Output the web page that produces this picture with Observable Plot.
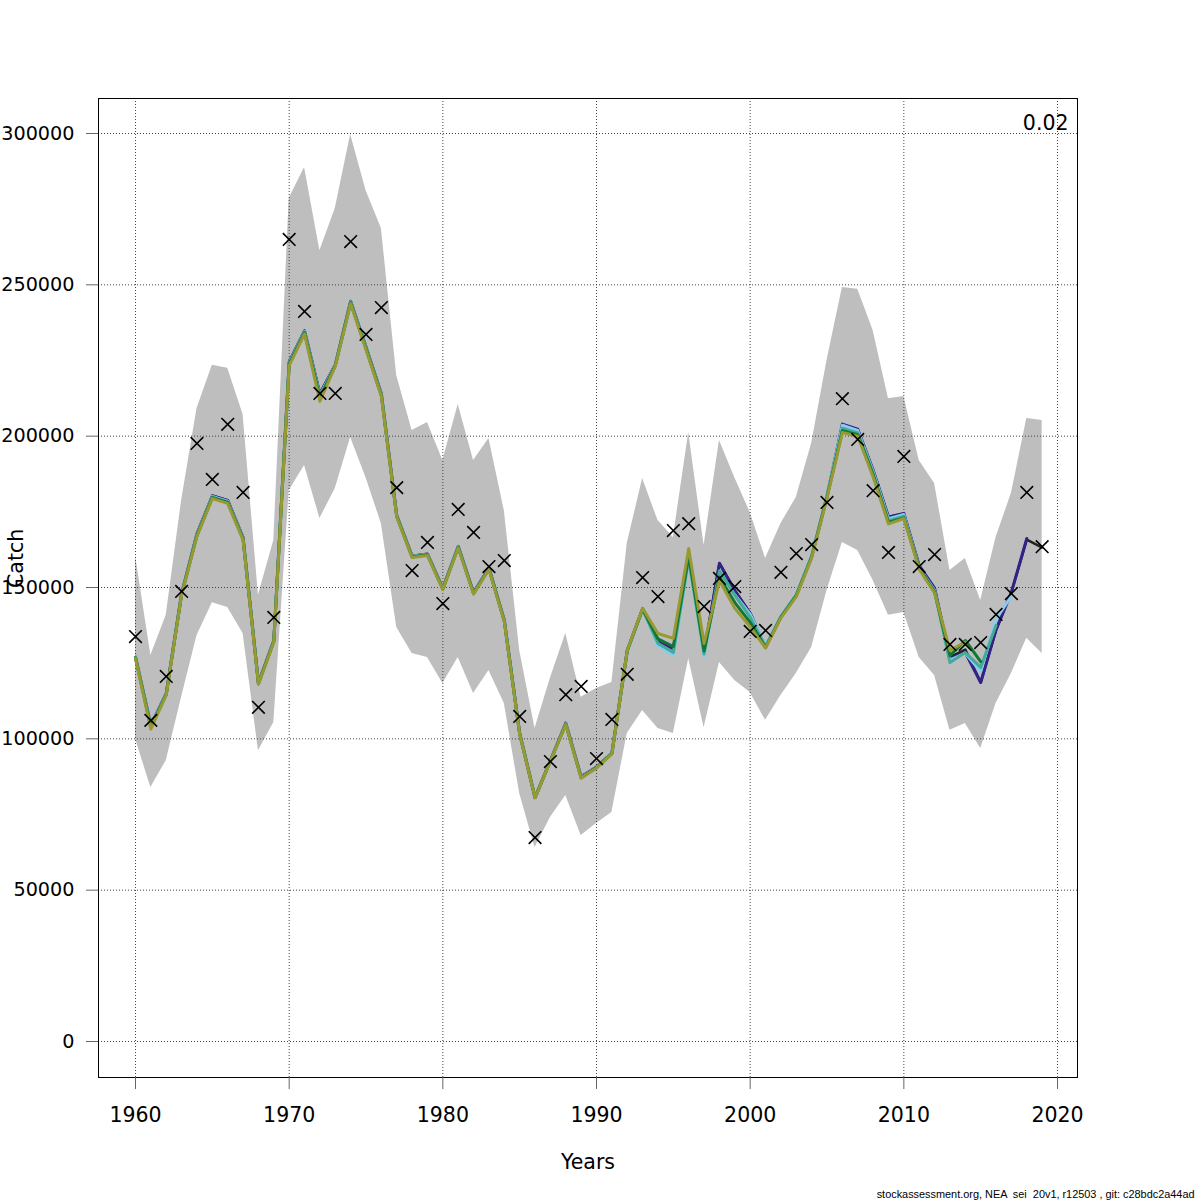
<!DOCTYPE html>
<html><head><meta charset="utf-8">
<script src="https://cdn.jsdelivr.net/npm/d3@7"></script>
<script src="https://cdn.jsdelivr.net/npm/@observablehq/plot@0.6"></script>
<style>
body{margin:0;background:#fff;}
#chart{width:1200px;height:1200px;}
</style></head><body><div id="chart"></div>
<script>
const years = [1960,1961,1962,1963,1964,1965,1966,1967,1968,1969,1970,1971,1972,1973,1974,1975,1976,1977,1978,1979,1980,1981,1982,1983,1984,1985,1986,1987,1988,1989,1990,1991,1992,1993,1994,1995,1996,1997,1998,1999,2000,2001,2002,2003,2004,2005,2006,2007,2008,2009,2010,2011,2012,2013,2014,2015,2016,2017,2018,2019];

const observedCatch = [133800,106100,120600,148700,197600,185700,203900,181400,110400,140100,265000,241200,214100,214100,264300,233600,242500,183000,155600,164900,144700,175800,168200,156900,158900,107400,67400,92500,114600,117300,93500,106400,121300,153300,147000,168800,171100,143700,153000,150300,135500,135800,155000,161200,164200,178100,212400,198900,182000,161600,193300,156900,160900,131200,131200,131800,141100,148000,181400,163500];

const upperCI = [160600,127500,140800,178700,209100,223400,222400,207200,147400,165500,278500,288800,261300,275200,299700,281200,268600,220000,201900,204500,192000,210500,192000,199200,175400,129200,103400,120000,134800,113700,116600,118600,164500,186000,172100,166500,201200,163900,198600,186300,174800,159600,171100,179700,197600,225000,249100,248500,234900,212400,213100,192000,184400,155600,159600,145700,166500,181100,205800,205200];

const lowerCI = [100000,83900,92800,113700,134100,145000,143400,134800,96100,105400,182000,190300,172800,182700,199600,186300,171100,136800,128200,126900,118300,126900,115000,122600,111700,81900,64100,74000,81300,68100,72000,75700,101800,109400,103400,101800,126500,103700,125200,119300,115300,106100,114300,121600,130200,149000,164900,162200,152300,140800,141700,126900,120900,102800,105100,96800,111700,121600,133200,128200];

const baseRun = [127000,104500,115000,148000,167800,180300,178800,166500,118500,132500,224500,234800,214000,223600,244600,229500,214000,173800,160400,161100,149800,163600,148300,156500,139200,101900,80600,92800,105200,87500,90700,95300,129200,143000,132500,129800,160000,128500,158000,149000,141500,130300,140300,147500,160300,180200,203800,202200,188500,173300,174400,157000,149500,127000,129500,118600,136000,148500,165800,163200];

// retrospective peels (each one year shorter)
const peel1 = [127000,104500,115000,148000,167800,180300,178800,166500,118500,132500,224500,234800,214000,223600,244600,229500,214000,173800,160400,161100,149800,163600,148300,156500,139200,101900,80600,92800,105200,87500,90700,95300,129200,143000,132500,129800,160000,128500,158000,149000,141500,130300,140300,147500,160300,180200,204000,202300,188800,173300,174500,157200,149800,126500,128500,118600,136000,148500,166200];

const peel2 = [127000,104300,114900,148000,167600,180100,178500,166300,118400,132400,224200,234600,213500,223500,244400,229300,213800,173700,160300,161000,149700,163500,148200,156400,139100,101800,80700,92800,105000,87300,90600,95200,129000,142800,130800,127600,158600,127400,154600,147600,141200,131000,140600,147900,160700,180500,203600,201900,188300,172700,174100,156600,149100,126000,128300,122200,139500,147200];

const peel3 = [126900,104100,114800,147900,167400,179900,178300,166200,118300,132300,224000,234400,213200,223400,244300,229100,213600,173600,160200,160900,149600,163400,148100,156300,139000,101700,80700,92800,104900,87200,90600,95200,129000,142800,131500,128500,159500,128000,155500,147500,140200,130500,140400,147600,160400,180200,202600,201100,187800,172100,173600,156500,148800,125200,128500,123600,137500];

const peel4 = [126800,103800,114700,147800,167200,179700,178100,166000,118200,132200,223800,234200,212600,223300,244100,228900,213400,173500,160100,160800,149500,163300,148000,156200,138900,101600,80600,92800,104800,87100,90500,95100,129100,142900,133000,130500,160500,129000,153500,145000,138500,130200,140200,147300,160100,179900,201800,200500,187200,171500,173000,156400,148500,127500,132500,125500];

const peel5 = [126600,103200,114500,147600,166900,179400,177800,165700,118000,132000,223300,233800,211500,223100,243800,228600,213100,173300,159900,160600,149300,163100,147800,156000,138700,101500,80500,92700,104700,87000,90400,95000,129200,143100,134800,133200,162900,131500,152300,143100,137000,130000,140000,147000,159800,179500,201200,200000,186500,171000,172800,156000,148200,129200,132000];

const seriesColors = ["#222222","#332288","#88CCEE","#44AA99","#117733","#999933"];
const xTicks = [1960,1970,1980,1990,2000,2010,2020];
const yTicks = [0,50000,100000,150000,200000,250000,300000];

const band = years.map((y,i)=>({year:y, lo:lowerCI[i], hi:upperCI[i]}));
const obs = years.map((y,i)=>({year:y, v:observedCatch[i]}));
const toRows = arr => arr.map((v,i)=>({year:years[i], v}));
const allSeries = [baseRun, peel1, peel2, peel3, peel4, peel5];
const FS = 20.5;

const chart = Plot.plot({
  width:1200, height:1200,
  marginLeft:98, marginRight:123, marginTop:98, marginBottom:123,
  style:{fontFamily:"DejaVu Sans", fontSize:FS+"px", background:"#fff", overflow:"visible", color:"#000"},
  x:{domain:[1957.592, 2021.30]},
  y:{domain:[-11894, 311564]},
  marks:[
    Plot.areaY(band, {x:"year", y1:"lo", y2:"hi", fill:"#bebebe", curve:"linear"}),
    Plot.gridX(xTicks, {stroke:"#444", strokeOpacity:1, strokeDasharray:"1,2", strokeWidth:1}),
    Plot.gridY(yTicks, {stroke:"#444", strokeOpacity:1, strokeDasharray:"1,2", strokeWidth:1}),
    ...allSeries.map((s,k)=>Plot.line(toRows(s), {x:"year", y:"v", stroke:seriesColors[k], strokeWidth:k===0?2.5:3})),
    Plot.dot(obs, {x:"year", y:"v", symbol:"times", r:5.8, stroke:"#000", strokeWidth:1.6}),
    Plot.frame({stroke:"#000", strokeWidth:1}),
    Plot.axisX(xTicks, {tickSize:12, tickPadding:18, stroke:"#666", fill:"#000", label:null, tickFormat:d=>String(d), fontSize:FS}),
    Plot.axisY(yTicks, {tickSize:12, tickPadding:12, stroke:"#666", fill:"#000", label:null, tickFormat:d=>String(d), fontSize:19.2}),
    Plot.text(["Catch"], {frameAnchor:"left", dx:-82, rotate:-90, lineAnchor:"middle", fontSize:FS, fill:"#000"}),
    Plot.text(["Years"], {frameAnchor:"bottom", dy:85, lineAnchor:"middle", fontSize:FS, fill:"#000"}),
    Plot.text(["0.02"], {frameAnchor:"top-right", dx:-9, dy:25, textAnchor:"end", lineAnchor:"middle", fontSize:FS, fill:"#000"}),
    Plot.text(["stockassessment.org, NEA  sei  20v1, r12503 , git: c28bdc2a44ad"], {frameAnchor:"bottom-right", dx:117, dy:117, textAnchor:"end", lineAnchor:"middle", fontSize:10.9, fontFamily:"Liberation Sans", fill:"#000"})
  ]
});
document.getElementById("chart").appendChild(chart);
</script></body></html>
